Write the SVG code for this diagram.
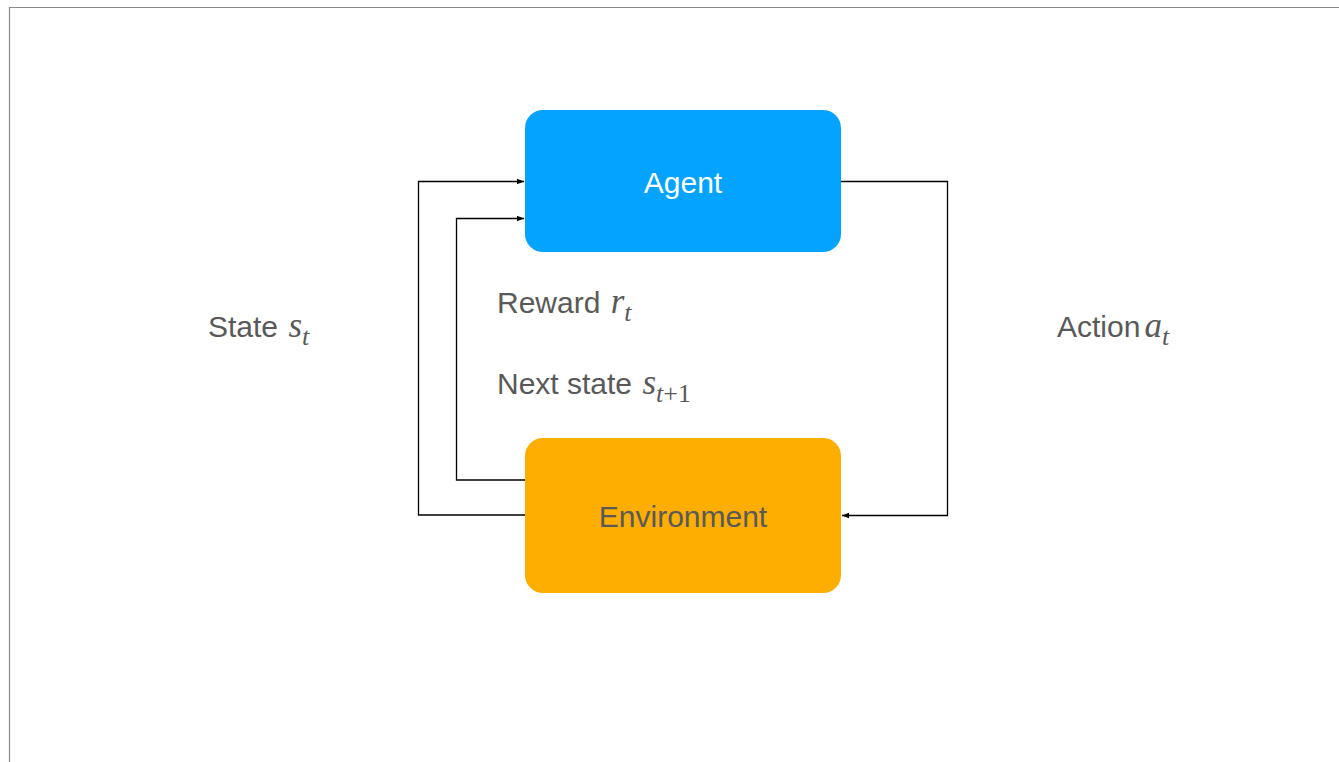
<svg xmlns="http://www.w3.org/2000/svg" width="1339" height="762" viewBox="0 0 1339 762">
<style>
.lbl{font-family:"Liberation Sans",Arial,sans-serif;font-size:30px;fill:#595959}
.m{font-family:"Liberation Serif","Times New Roman",serif;font-style:italic;font-size:35px}
.sub{font-family:"Liberation Serif","Times New Roman",serif;font-style:italic;font-size:26px}
.subr{font-family:"Liberation Serif","Times New Roman",serif;font-style:normal;font-size:26px}
.edge{fill:none;stroke:#000;stroke-width:1.3}
</style>
<defs>
<marker id="ah" viewBox="0 0 10 10" refX="10" refY="5" markerWidth="7" markerHeight="7" markerUnits="userSpaceOnUse" orient="auto">
<path d="M0,1 L10,5 L0,9 Z" fill="#000"/>
</marker>
</defs>
<rect x="0" y="0" width="1339" height="762" fill="#fff"/>
<path d="M9.5,762 V7.5 H1339" fill="none" stroke="#8a8a8a" stroke-width="1.2"/>
<g id="connectors">
<path class="edge" d="M525,515 H418.5 V181.5 H524" marker-end="url(#ah)"/>
<path class="edge" d="M525,480 H456.5 V218.5 H524" marker-end="url(#ah)"/>
<path class="edge" d="M841,181.5 H947.5 V515.5 H842" marker-end="url(#ah)"/>
</g>
<g id="agent">
<rect x="525" y="110" width="316" height="142" rx="18" fill="#03A3FF"/>
<text x="683" y="193" text-anchor="middle" font-family="Liberation Sans,Arial,sans-serif" font-size="30" fill="#fff">Agent</text>
</g>
<g id="environment">
<rect x="525" y="438" width="316" height="155" rx="18" fill="#FDAE00"/>
<text x="683" y="527" text-anchor="middle" class="lbl">Environment</text>
</g>
<g id="label-state">
<text x="208" y="337" class="lbl">State <tspan class="m" dx="2">s</tspan><tspan class="sub" dy="8">t</tspan></text>
</g>
<g id="label-reward">
<text x="497" y="313" class="lbl">Reward <tspan class="m" dx="2">r</tspan><tspan class="sub" dy="8">t</tspan></text>
</g>
<g id="label-next">
<text x="497" y="394" class="lbl">Next state <tspan class="m" dx="2">s</tspan><tspan class="sub" dy="8">t</tspan><tspan class="subr">+1</tspan></text>
</g>
<g id="label-action">
<text x="1057" y="337" class="lbl">Action<tspan class="m" dx="4">a</tspan><tspan class="sub" dy="8">t</tspan></text>
</g>
</svg>
